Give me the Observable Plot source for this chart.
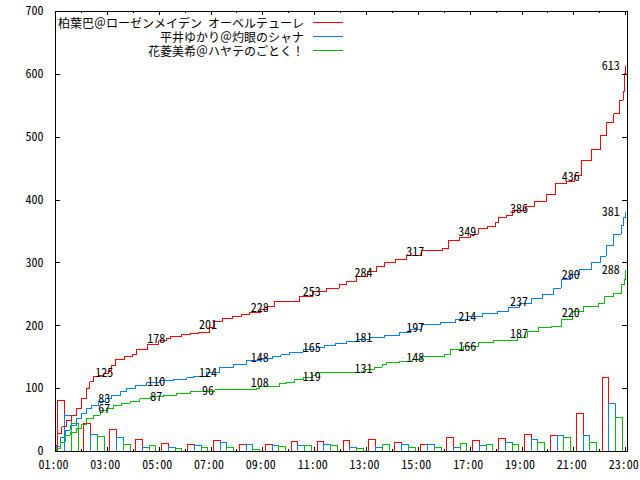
<!DOCTYPE html>
<html><head><meta charset="utf-8">
<script src="https://cdn.jsdelivr.net/npm/d3@7"></script>
<script src="https://cdn.jsdelivr.net/npm/@observablehq/plot@0.6"></script>
<style>body{margin:0;background:#fff} svg{display:block}</style>
</head><body><div id="chart"></div>
<script>
// ---- data ----
const seriesNames = ["柏葉巴＠ローゼンメイデン オーベルテューレ", "平井ゆかり＠灼眼のシャナ", "花菱美希＠ハヤテのごとく！"];
const seriesColors = ["#ff0000", "#0080ff", "#00c000"];

const barHours = [1,2,3,4,5,6,7,8,9,10,11,12,13,14,15,16,17,18,19,20,21,22];
const redCounts   = [81,44,35,18,12,11,16,11,10,15,15,16,19,14,10,22,17,20,26,24,60,117];
const blueCounts  = [57,26,21,6,6,8,14,10,9,8,10,6,6,10,11,6,9,14,18,25,25,76];
const greenCounts = [44,23,11,9,4,5,5,3,7,8,8,4,10,6,6,12,10,10,13,22,14,54];

const labelHours  = [3,5,7,9,11,13,15,17,19,21,23];
const redLabels   = [125,178,201,228,253,284,317,349,386,436,613];
const blueLabels  = [83,110,124,148,165,181,197,214,237,280,381];
const greenLabels = [67,87,96,108,119,131,148,166,187,220,288];

const redTimes  = [1.0,1.02,1.07,1.24,1.44,1.63,1.82,2.01,2.21,2.33,2.46,2.65,2.85,3.04,3.17,3.32,3.68,3.97,4.12,4.55,4.99,5.28,5.42,5.79,5.86,6.22,6.51,6.95,7.09,7.45,7.82,8.18,8.47,8.90,9.19,9.46,10.28,10.43,10.93,11.44,11.95,12.24,12.60,13.04,13.40,13.69,14.13,14.56,15.14,15.94,16.16,16.59,17.03,17.32,17.68,17.97,18.11,18.40,18.62,19.13,19.49,19.93,20.29,20.72,21.01,21.30,21.67,22.03,22.25,22.54,22.75,22.90,22.94,23.0];
const redValues = [0,10,28,39,50,58,68,84,100,111,119,121,124,129,137,146,151,155,162,171,176,179,183,183,186,188,190,197,207,211,215,218,221,226,231,238,238,247,254,260,265,271,278,287,294,300,306,312,319,323,335,340,346,354,358,364,373,375,383,389,398,409,426,430,439,463,481,503,524,537,559,572,601,613];

const blueTimes  = [1.0,1.02,1.18,1.37,1.56,1.82,2.01,2.21,2.40,2.65,2.91,3.17,3.49,3.75,4.07,4.52,5.03,5.54,6.06,6.31,6.83,7.34,7.85,8.37,8.88,9.39,9.70,10.04,10.55,11.08,11.37,11.80,12.24,12.67,13.11,13.69,14.27,14.71,15.14,15.87,16.45,16.88,17.46,18.04,18.48,18.91,19.35,19.78,20.22,20.51,20.87,21.23,21.67,22.03,22.25,22.54,22.83,22.93,23.0];
const blueValues = [0,8,23,34,42,52,60,68,73,79,84,89,95,100,105,110,113,115,117,119,126,133,139,144,148,151,154,158,162,166,169,172,175,178,181,184,189,194,202,205,210,214,219,222,229,235,244,250,260,274,282,290,300,311,327,346,359,372,381];

const greenTimes  = [1.0,1.02,1.18,1.37,1.56,1.82,2.01,2.21,2.46,2.72,2.98,3.23,3.55,3.88,4.26,4.65,5.16,5.67,6.19,6.57,7.15,7.85,8.75,8.88,9.2,9.65,9.91,10.23,10.55,10.9,11.05,12.75,12.9,13.3,13.6,13.76,14.27,14.78,15.14,16.01,16.23,16.74,17.32,17.90,18.84,19.20,19.64,20.14,20.51,20.94,21.38,21.96,22.17,22.54,22.83,22.95,23.0];
const greenValues = [0,5,15,26,31,36,43,52,58,65,69,73,77,79,84,87,89,92,95,95,98,98,100,103,104,108,110,114,118,121,125,126,130,134,139,142,143,147,151,154,162,167,173,176,182,191,198,199,210,223,230,236,247,252,266,274,288];

const xMajorHours = d3.range(1, 24, 2);
const xMinorHours = d3.range(2, 23, 2);
const yTicks = d3.range(0, 701, 100);

// ---- layout ----
const W = 640, H = 480, mL = 55, mR = 13, mT = 11, mB = 29;
const innerW = W - mL - mR, innerH = H - mT - mB;
const FONT = '"Noto Sans Mono CJK JP", "Noto Sans CJK JP", monospace';
const fmt = h => String(h).padStart(2, "0") + ":00";

const counts = [redCounts, blueCounts, greenCounts];
const labels = [redLabels, blueLabels, greenLabels];
const lineSets = [[redTimes, redValues], [blueTimes, blueValues], [greenTimes, greenValues]];

const marks = [];
counts.forEach((arr, k) => {
  const data = barHours.map((h, i) => ({x1: h + 0.115 + k * 0.26, x2: h + 0.115 + (k + 1) * 0.26, v: arr[i]}));
  marks.push(Plot.rect(data, {x1: "x1", x2: "x2", y1: 0, y2: "v", fill: "none", stroke: seriesColors[k], strokeWidth: 1, shapeRendering: "crispEdges"}));
});
lineSets.forEach(([ts, vs], k) => {
  const data = ts.map((t, i) => ({t, v: vs[i]}));
  marks.push(Plot.line(data, {x: "t", y: "v", stroke: seriesColors[k], strokeWidth: 1, curve: "step-after", shapeRendering: "crispEdges"}));
});
labels.forEach((arr, k) => {
  const data = labelHours.map((h, i) => ({h, v: arr[i]}));
  marks.push(Plot.text(data.filter(d => d.h < 23), {x: "h", y: "v", text: d => String(d.v), dx: -3, fill: "black", fontSize: 12}));
  marks.push(Plot.text(data.filter(d => d.h === 23), {x: "h", y: "v", text: d => String(d.v), dx: -6, textAnchor: "end", fill: "black", fontSize: 12}));
});

marks.push(
  Plot.ruleX(xMajorHours, {insetTop: innerH - 4, stroke: "black", shapeRendering: "crispEdges"}),
  Plot.ruleX(xMajorHours, {insetBottom: innerH - 4, stroke: "black", shapeRendering: "crispEdges"}),
  Plot.ruleX(xMinorHours, {insetTop: innerH - 2, stroke: "black", shapeRendering: "crispEdges"}),
  Plot.ruleX(xMinorHours, {insetBottom: innerH - 2, stroke: "black", shapeRendering: "crispEdges"}),
  Plot.ruleY(yTicks, {insetRight: innerW - 5, stroke: "black", shapeRendering: "crispEdges"}),
  Plot.ruleY(yTicks, {insetLeft: innerW - 5, stroke: "black", shapeRendering: "crispEdges"}),
  Plot.frame({stroke: "black", shapeRendering: "crispEdges"}),
  Plot.axisX({ticks: xMajorHours, tickFormat: fmt, tickSize: 0, tickPadding: 9, dx: -2, label: null, fontSize: 12}),
  Plot.axisY({ticks: yTicks, tickFormat: d => String(d), tickSize: 0, tickPadding: 12, label: null, fontSize: 12})
);

const chart = Plot.plot({
  width: W, height: H,
  marginLeft: mL, marginRight: mR, marginTop: mT, marginBottom: mB,
  style: {fontFamily: FONT, fontSize: "12px", background: "white", color: "black"},
  x: {domain: [1, 23.07]},
  y: {domain: [0, 700]},
  marks
});

// legend (inside the frame, top-left, right-aligned text with line swatches)
const svg = d3.select(chart);
const g = svg.append("g").attr("font-family", FONT).attr("font-size", 12);
seriesNames.forEach((n, i) => {
  const y = mT + 11.5 + i * 14;
  g.append("text").attr("x", mL + 249).attr("y", y).attr("text-anchor", "end")
    .attr("dominant-baseline", "central").attr("fill", "black").text(n);
  g.append("line").attr("x1", mL + 258).attr("x2", mL + 288).attr("y1", y).attr("y2", y)
    .attr("stroke", seriesColors[i]).attr("stroke-width", 1).attr("shape-rendering", "crispEdges");
});

document.getElementById("chart").appendChild(chart);
</script>
</body></html>
